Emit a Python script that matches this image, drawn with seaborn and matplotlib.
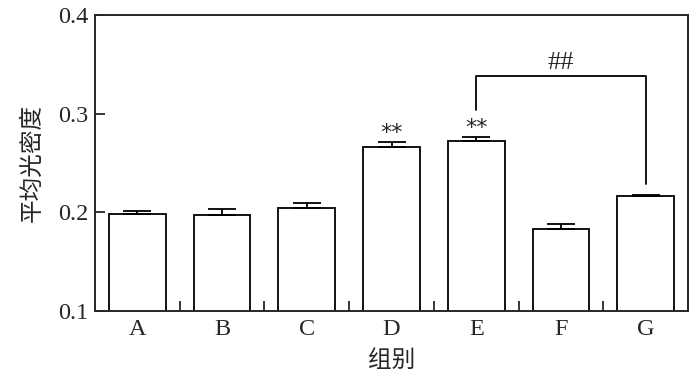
import numpy as np
import pandas as pd
import matplotlib
matplotlib.use('Agg')
import matplotlib.pyplot as plt
import seaborn as sns

# values
groups = ['A', 'B', 'C', 'D', 'E', 'F', 'G']
means = [0.198, 0.197, 0.204, 0.266, 0.272, 0.183, 0.217]
errors = [0.003, 0.006, 0.005, 0.005, 0.004, 0.0047, 0.001]
star_labels = ['', '', '', '**', '**', '', '']

sns.set_style('ticks')
plt.rcParams['font.family'] = ['Liberation Serif', 'Noto Sans CJK SC']
plt.rcParams['axes.linewidth'] = 1.4

df = pd.DataFrame({'group': groups, 'mean': means})

fig = plt.figure(figsize=(7, 3.8), dpi=100)
ax = fig.add_axes([0.1357, 0.1816, 0.8473, 0.7789])

sns.barplot(data=df, x='group', y='mean', color='white', edgecolor='black',
            linewidth=1.3, width=0.67, ax=ax, saturation=1)

x = np.arange(len(groups))
ax.errorbar(x, means, yerr=[np.zeros(len(errors)), errors], fmt='none',
            ecolor='black', elinewidth=1.3, capsize=10.4, capthick=1.3, zorder=3)

# significance marks (centred ~0.009 above the error bar)
for i, lab in enumerate(star_labels):
    if lab:
        ax.text(i, means[i] + errors[i] + 0.0095, lab, ha='center', va='center',
                fontsize=16, family='DejaVu Sans')

# bracket E -> G
ax.plot([4, 4, 6, 6], [0.3037, 0.338, 0.338, 0.2287], color='black', lw=1.3)
ax.text(5, 0.340, '##', ha='center', va='bottom', fontsize=19)

ax.set_xlim(-0.5, 6.5)
ax.set_ylim(0.1, 0.4)
ax.set_yticks([0.1, 0.2, 0.3, 0.4])
ax.set_yticklabels(['0.1', '0.2', '0.3', '0.4'])
ax.set_xticks(x)
ax.set_xticklabels(groups)
ax.set_xticks(np.arange(0.5, 6, 1), minor=True)
ax.tick_params(axis='x', which='major', length=0, labelsize=17.5, pad=6)
ax.tick_params(axis='x', which='minor', direction='in', length=7, width=1.3)
ax.tick_params(axis='y', direction='in', length=7, width=1.3, labelsize=17.5, pad=5)

for side in ['top', 'right', 'left', 'bottom']:
    ax.spines[side].set_visible(True)

ax.set_xlabel('组别', fontsize=17, family=['Noto Sans CJK SC'], weight='medium', labelpad=6)
ax.set_ylabel('平均光密度', fontsize=17, family=['Noto Sans CJK SC'], weight='medium', labelpad=10)

fig.savefig('out.png', dpi=100)
